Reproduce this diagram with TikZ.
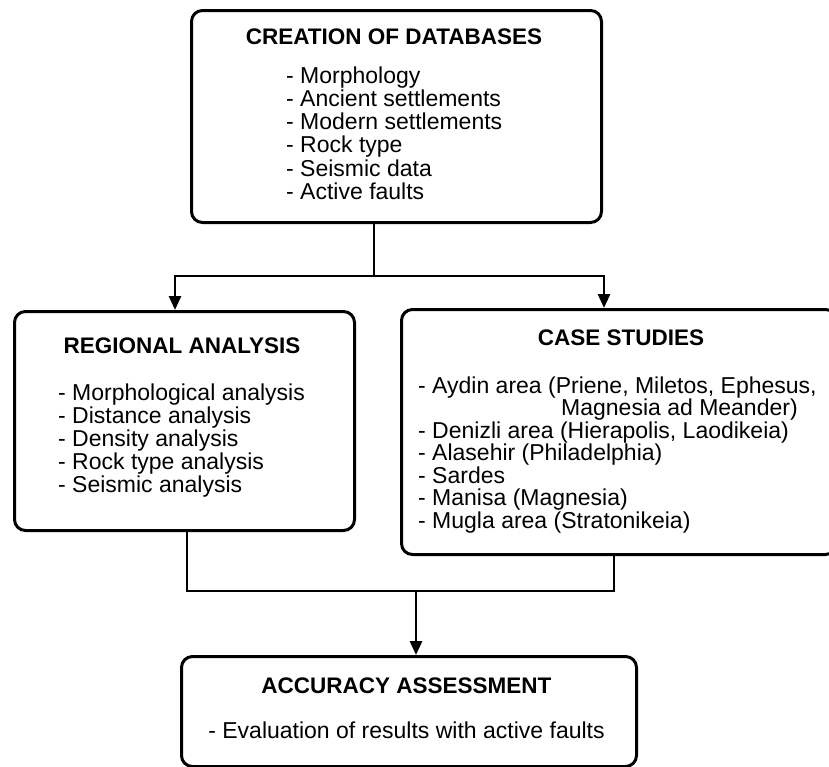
\documentclass[tikz,border=0pt]{standalone}
\usepackage{fontspec}
\setmainfont{Liberation Sans}
\usetikzlibrary{arrows.meta}
\begin{document}
\begin{tikzpicture}[x=1pt,y=-1pt,
    box/.style={draw,line width=3pt,rounded corners=11pt,inner sep=0pt,anchor=north west},
    title/.style={anchor=base,inner sep=0pt,font=\fontsize{22.5}{22.5}\selectfont\bfseries},
    item/.style={anchor=base west,inner sep=0pt,font=\fontsize{23}{23}\selectfont},
    link/.style={line width=2.8pt},
    arr/.style={line width=2.8pt,-{Triangle[length=14pt,width=12pt]}}]
  \clip (0,0) rectangle (829,766);
  \useasboundingbox (0,0) rectangle (829,766);
  % boxes
  \node[box,minimum width=410pt,minimum height=212pt] (db) at (190,9) {};
  \node[box,minimum width=340pt,minimum height=219pt] (regional) at (13,310) {};
  \node[box,minimum width=435pt,minimum height=245pt] (cases) at (400,308) {};
  \node[box,minimum width=455pt,minimum height=110pt] (accuracy) at (180,655) {};
  % creation of databases
  \draw
    (394,44) node[title] (dbtitle) {CREATION OF DATABASES}
    (286,83) node[item] (db1) {- Morphology}
    (286,106.3) node[item] (db2) {- Ancient settlements}
    (286,129.6) node[item] (db3) {- Modern settlements}
    (286,152.9) node[item] (db4) {- Rock type}
    (286,176.2) node[item] (db5) {- Seismic data}
    (286,199.5) node[item] (db6) {- Active faults};
  % regional analysis
  \draw
    (182,353) node[title] (regtitle) {REGIONAL ANALYSIS}
    (58,400) node[item] (reg1) {- Morphological analysis}
    (58,423) node[item] (reg2) {- Distance analysis}
    (58,446) node[item] (reg3) {- Density analysis}
    (58,469) node[item] (reg4) {- Rock type analysis}
    (58,492) node[item] (reg5) {- Seismic analysis};
  % case studies
  \draw
    (621,345) node[title] (castitle) {CASE STUDIES}
    (418,393) node[item] (cas1) {- Aydin area (Priene, Miletos, Ephesus,}
    (561,415.5) node[item] (cas1b) {Magnesia ad Meander)}
    (418,438) node[item] (cas2) {- Denizli area (Hierapolis, Laodikeia)}
    (418,460.5) node[item] (cas3) {- Alasehir (Philadelphia)}
    (418,483) node[item] (cas4) {- Sardes}
    (418,505.5) node[item] (cas5) {- Manisa (Magnesia)}
    (418,528) node[item] (cas6) {- Mugla area (Stratonikeia)};
  % accuracy assessment
  \draw
    (406.5,693) node[title] (acctitle) {ACCURACY ASSESSMENT}
    (406.5,738) node[item,anchor=base] (acc1) {- Evaluation of results with active faults};
  % connectors
  \coordinate (split) at (374,276);
  \coordinate (la) at (175,276);
  \coordinate (ra) at (604,276);
  \coordinate (lj) at (187,591);
  \coordinate (rj) at (614,591);
  \coordinate (join) at (416,591);
  \draw[link] (db.south -| split) -- (split);
  \draw[arr] (split) -| (regional.north -| la);
  \draw[arr] (split) -| (cases.north -| ra);
  \draw[link] (regional.south -| lj) -- (lj) -- (rj) -- (cases.south -| rj);
  \draw[arr] (join) -- (accuracy.north -| join);
\end{tikzpicture}
\end{document}
